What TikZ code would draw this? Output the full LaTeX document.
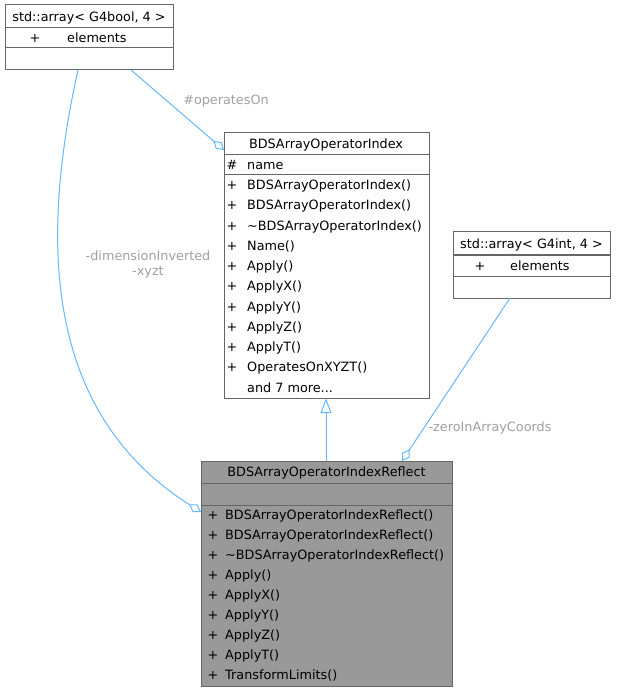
\documentclass[tikz,border=0pt]{standalone}
\usepackage{fontspec}
\setmainfont{DejaVu Sans}
\usetikzlibrary{arrows.meta,calc}
\definecolor{edgeblue}{HTML}{63B8FF}
\definecolor{boxline}{HTML}{666666}
\definecolor{boxgray}{HTML}{999999}
\definecolor{lblgray}{HTML}{A0A0A0}
\tikzset{
  umlbox/.style={draw=boxline, line width=1pt, fill=white, anchor=north west, inner sep=0pt, outer sep=0pt},
  sep/.style={draw=boxline, line width=1pt},
  txt/.style={inner sep=0pt, anchor=base west, font=\fontsize{12.8}{15}\selectfont},
  ctxt/.style={inner sep=0pt, anchor=base, font=\fontsize{12.8}{15}\selectfont},
  lbl/.style={inner sep=0pt, text=lblgray, align=center, font=\fontsize{12.8}{15}\selectfont},
  assoc/.style={draw=edgeblue, line width=1pt, -{Diamond[open, length=14pt, width=9pt, line width=1pt]}},
  inherit/.style={draw=edgeblue, line width=1pt, -{Triangle[open, length=15pt, width=11pt, line width=1pt]}}
}
\begin{document}
\begin{tikzpicture}[x=1pt,y=-1pt]
\useasboundingbox (0,0) rectangle (616,692);

% Box A
\node[umlbox, minimum width=168pt, minimum height=65pt] (A) at (5,5) {};
\draw[sep] (5,28) -- (173,28);
\draw[sep] (5,48) -- (173,48);
\node[ctxt] (At) at (89,21.5) {std::array< G4bool, 4 >};
\node[ctxt] (Ap) at (35,42.5) {+};
\node[txt] (Ae) at (67,42.5) {elements};

% Box B
\node[umlbox, minimum width=205pt, minimum height=265pt] (B) at (224,133) {};
\draw[sep] (224,155) -- (429,155);
\draw[sep] (224,175) -- (429,175);
\node[ctxt] (Bt) at (326,148.5) {BDSArrayOperatorIndex};
\node[ctxt] (Bh) at (232,169.5) {\#};
\node[txt] (Bn) at (247,169.5) {name};
\foreach \t [count=\i from 0] in {BDSArrayOperatorIndex(),BDSArrayOperatorIndex(),\textasciitilde BDSArrayOperatorIndex(),Name(),Apply(),ApplyX(),ApplyY(),ApplyZ(),ApplyT(),OperatesOnXYZT()} {
  \node[ctxt] (Bp\i) at (232,189.5+20.27*\i) {+};
  \node[txt] (Bm\i) at (247,189.5+20.27*\i) {\t};
}
\node[txt] (Bmore) at (247,189.5+20.27*10) {and 7 more...};

% Box C
\node[umlbox, minimum width=157pt, minimum height=66pt] (C) at (453,232) {};
\draw[sep] (453,255) -- (610,255);
\draw[sep] (453,276) -- (610,276);
\node[ctxt] (Ct) at (531.5,248.5) {std::array< G4int, 4 >};
\node[ctxt] (Cp) at (480,270) {+};
\node[txt] (Ce) at (510,270) {elements};

% Box D
\node[umlbox, fill=boxgray, minimum width=251pt, minimum height=225pt] (D) at (201,461) {};
\draw[sep] (201,483) -- (452,483);
\draw[sep] (201,505) -- (452,505);
\node[ctxt] (Dt) at (326.5,476.5) {BDSArrayOperatorIndexReflect};
\foreach \t [count=\i from 0] in {BDSArrayOperatorIndexReflect(),BDSArrayOperatorIndexReflect(),\textasciitilde BDSArrayOperatorIndexReflect(),Apply(),ApplyX(),ApplyY(),ApplyZ(),ApplyT(),TransformLimits()} {
  \node[ctxt] (Dp\i) at (213,519.5+20*\i) {+};
  \node[txt] (Dm\i) at (225,519.5+20*\i) {\t};
}

% Connectors
\draw[inherit] ([xshift=125pt]D.north west) -- ([xshift=102pt]B.south west);
\draw[assoc] ([xshift=126pt]A.south west) -- ([yshift=-17pt]B.north west);
\draw[assoc] ([xshift=73pt]A.south west) .. controls (38,250) and (48,415) .. ([yshift=-51pt]D.north west);
\draw[assoc] ([xshift=57pt]C.south west) -- ([xshift=201pt]D.north west);

% Labels
\node[lbl] (L1) at (226,101) {\#operatesOn};
\node[lbl] (L2) at (148,264) {-dimensionInverted\\-xyzt};
\node[lbl] (L3) at (490,428) {-zeroInArrayCoords};
\end{tikzpicture}
\end{document}
